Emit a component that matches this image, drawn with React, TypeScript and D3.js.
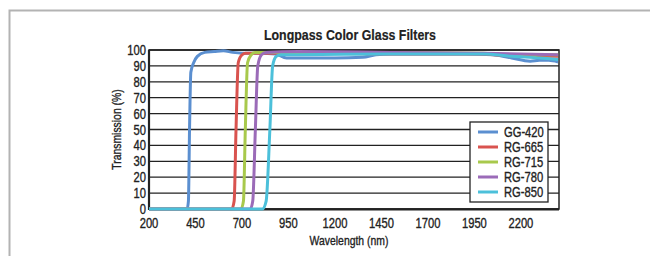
import React from "react";
import * as d3 from "d3";

const title = "Longpass Color Glass Filters";
const xTicks = [200, 450, 700, 950, 1200, 1450, 1700, 1950, 2200];
const yTicks = [0, 10, 20, 30, 40, 50, 60, 70, 80, 90, 100];

const seriesNames = ["GG-420", "RG-665", "RG-715", "RG-780", "RG-850"];
const seriesColors = ["#5b8fd0", "#d9534f", "#a8c94c", "#9b6bb8", "#4cc0da"];

const gg420Wl = [200, 405, 412, 418, 425, 440, 460, 500, 550, 600, 650, 700, 800, 880, 940, 1000, 1200, 1350, 1420, 1500, 1700, 1900, 2050, 2150, 2250, 2300, 2350, 2400];
const gg420T = [0, 0, 5, 50, 86, 92, 96, 98.5, 99, 99.5, 98.5, 98, 98, 97.5, 95, 95, 95, 95.5, 97, 97.5, 97.5, 97.5, 97, 95, 93, 93.5, 93.5, 92.5];

const rg665Wl = [200, 645, 658, 668, 680, 700, 720, 800, 1000, 1500, 2000, 2100, 2400];
const rg665T = [0, 0, 5, 50, 92, 97, 98, 98, 98, 97.5, 97.5, 96.5, 96];

const rg715Wl = [200, 695, 708, 718, 730, 750, 770, 1000, 1500, 2000, 2250, 2300, 2400];
const rg715T = [0, 0, 5, 50, 92, 97, 98.5, 98.5, 98.5, 98, 96, 97, 97];

const rg780Wl = [200, 745, 758, 772, 785, 805, 830, 1000, 1500, 2000, 2400];
const rg780T = [0, 0, 5, 50, 90, 97, 98.5, 99, 98.5, 98, 97];

const rg850Wl = [200, 810, 830, 850, 865, 885, 910, 1000, 1500, 2000, 2150, 2300, 2400];
const rg850T = [0, 0, 5, 50, 90, 96, 97, 97, 97.5, 97.5, 96, 95, 94];

const seriesWl = [gg420Wl, rg665Wl, rg715Wl, rg780Wl, rg850Wl];
const seriesT = [gg420T, rg665T, rg715T, rg780T, rg850T];

const font = "'Liberation Sans', Arial, sans-serif";

// narrow text: Liberation Sans squeezed horizontally
function NText(props: { x: number; y: number; size: number; anchor?: string; bold?: boolean; rotate?: boolean; children: any }) {
  const { x, y, size, anchor = "start", bold, rotate, children } = props;
  return (
    <g transform={`translate(${x},${y})${rotate ? " rotate(-90)" : ""} scale(0.8,1)`}>
      <text
        textAnchor={anchor}
        fontSize={size}
        fontWeight={bold ? "bold" : "normal"}
        fill="#222"
        stroke="#222"
        strokeWidth={bold ? 0.2 : 0.35}
      >
        {children}
      </text>
    </g>
  );
}

export default function App() {
  const width = 650,
    height = 256;
  const left = 149,
    right = 559,
    top = 50,
    bottom = 209;

  const x = d3.scaleLinear().domain([200, 2405]).range([left, right]);
  const y = d3.scaleLinear().domain([0, 100]).range([bottom, top]);

  const line = d3
    .line<[number, number]>()
    .x((d) => x(d[0]))
    .y((d) => y(d[1]))
    .curve(d3.curveMonotoneX);

  const legendX = 470,
    legendY = 122,
    legendW = 78,
    legendH = 80,
    rowH = 15;

  return (
    <svg width={width} height={height} style={{ position: "absolute", left: 0, top: 0 }} fontFamily={font}>
      <rect x={0} y={0} width={width} height={height} fill="#fff" />
      {/* outer frame */}
      <path d={`M9.5,${height} V10.5 H${width}`} fill="none" stroke="#b3b3b3" strokeWidth={2} />

      <NText x={350} y={40} size={15.5} anchor="middle" bold>
        {title}
      </NText>

      {/* grid */}
      {yTicks.map((t) => (
        <line key={t} x1={left} x2={right} y1={y(t)} y2={y(t)} stroke="#222" strokeWidth={1.3} />
      ))}
      <rect x={left} y={top} width={right - left} height={bottom - top} fill="none" stroke="#222" strokeWidth={1.5} />
      <line x1={left} x2={left} y1={top} y2={bottom + 1} stroke="#222" strokeWidth={2.2} />
      <line x1={left} x2={right} y1={bottom + 0.5} y2={bottom + 0.5} stroke="#222" strokeWidth={2.2} />

      {/* y tick labels */}
      {yTicks.map((t) => (
        <NText key={t} x={left - 3} y={y(t) + 5} size={14} anchor="end">
          {t}
        </NText>
      ))}
      {/* x tick labels */}
      {xTicks.map((t) => (
        <NText key={t} x={x(t)} y={228} size={14} anchor="middle">
          {t}
        </NText>
      ))}

      <NText x={349} y={245} size={13} anchor="middle">
        Wavelength (nm)
      </NText>
      <NText x={121} y={(top + bottom) / 2} size={13} anchor="middle" rotate>
        Transmission (%)
      </NText>

      {/* series */}
      {seriesNames.map((name, i) => (
        <path
          key={name}
          d={line(seriesWl[i].map((w, j) => [w, seriesT[i][j]] as [number, number])) || ""}
          fill="none"
          stroke={seriesColors[i]}
          strokeWidth={3}
          strokeLinejoin="round"
        />
      ))}

      {/* legend */}
      <rect x={legendX} y={legendY} width={legendW} height={legendH} fill="#fff" stroke="#222" strokeWidth={1.3} />
      {seriesNames.map((name, i) => (
        <g key={name} transform={`translate(${legendX},${legendY + 10 + i * rowH})`}>
          <line x1={8} x2={28} y1={0} y2={0} stroke={seriesColors[i]} strokeWidth={3} />
          <NText x={34} y={5} size={14}>
            {name}
          </NText>
        </g>
      ))}
    </svg>
  );
}
